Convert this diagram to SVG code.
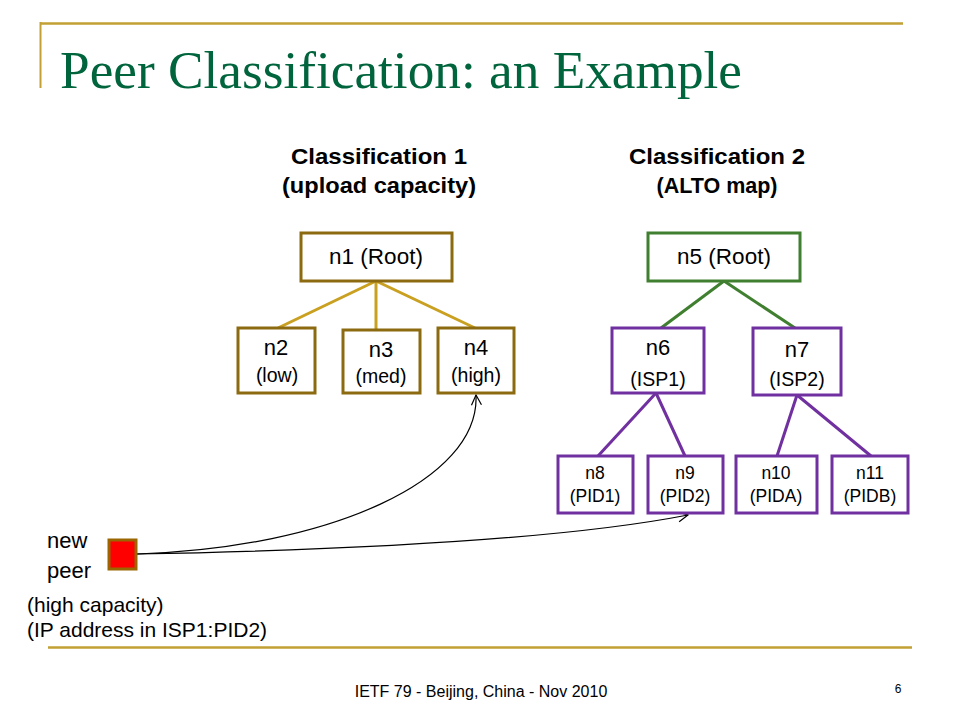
<svg xmlns="http://www.w3.org/2000/svg" width="960" height="720" viewBox="0 0 960 720">
<defs>
<style>
.t{font-family:"Liberation Sans",Arial,sans-serif;fill:#000;text-anchor:middle}
.l{font-family:"Liberation Sans",Arial,sans-serif;fill:#000}
.gb{fill:#fff;stroke:#8B6A10;stroke-width:3}
.grb{fill:#fff;stroke:#3F7F2F;stroke-width:3}
.pb{fill:#fff;stroke:#7030A0;stroke-width:3}
.gl{stroke:#C9A020;stroke-width:3;fill:none}
.grl{stroke:#3F7F2F;stroke-width:3;fill:none}
.pl{stroke:#7030A0;stroke-width:3;fill:none}
.cv{stroke:#000;stroke-width:1.2;fill:none;marker-end:url(#arr)}
</style>
<marker id="arr" viewBox="0 0 12 12" refX="11" refY="6" markerWidth="12" markerHeight="12" markerUnits="userSpaceOnUse" orient="auto">
<path d="M1,1 L11,6 L1,11" fill="none" stroke="#000" stroke-width="1.2"/>
</marker>
</defs>
<rect width="960" height="720" fill="#fff"/>
<g id="frame">
<line x1="40" y1="23.5" x2="903" y2="23.5" stroke="#C2A035" stroke-width="2.5"/>
<line x1="40.5" y1="22" x2="40.5" y2="88" stroke="#C2A035" stroke-width="2"/>
<line x1="48" y1="647.5" x2="912" y2="647.5" stroke="#C2A035" stroke-width="2.5"/>
<text x="60" y="88" font-family="'Liberation Serif','Times New Roman',serif" font-size="52" fill="#00643C" textLength="682" lengthAdjust="spacingAndGlyphs">Peer Classification: an Example</text>
<text class="t" x="481" y="697" font-size="16">IETF 79 - Beijing, China - Nov 2010</text>
<text class="t" x="898" y="693" font-size="12" fill="#333">6</text>
</g>
<g id="headings">
<text class="t" x="379" y="164" font-size="21.5" font-weight="bold" textLength="176" lengthAdjust="spacingAndGlyphs">Classification 1</text>
<text class="t" x="379" y="193" font-size="21.5" font-weight="bold" textLength="194" lengthAdjust="spacingAndGlyphs">(upload capacity)</text>
<text class="t" x="717" y="164" font-size="21.5" font-weight="bold" textLength="176" lengthAdjust="spacingAndGlyphs">Classification 2</text>
<text class="t" x="717" y="193" font-size="21.5" font-weight="bold">(ALTO map)</text>
</g>
<g id="connectors">
<line class="gl" x1="376" y1="281" x2="278" y2="328"/>
<line class="gl" x1="376" y1="281" x2="376" y2="330"/>
<line class="gl" x1="376" y1="281" x2="475" y2="328"/>
<line class="grl" x1="724" y1="281" x2="661" y2="328"/>
<line class="grl" x1="724" y1="281" x2="795" y2="328"/>
<line class="pl" x1="656" y1="393" x2="598" y2="456"/>
<line class="pl" x1="656" y1="393" x2="685" y2="456"/>
<line class="pl" x1="797" y1="395" x2="777" y2="456"/>
<line class="pl" x1="797" y1="395" x2="871" y2="456"/>
<path class="cv" d="M137,554 C330,548 480,480 476,395"/>
<path class="cv" d="M137,554 C350,550 560,540 688,515"/>
</g>
<g id="n1"><rect class="gb" x="301" y="233" width="151" height="48"/><text class="t" x="376" y="264" font-size="22.5">n1 (Root)</text></g>
<g id="n2"><rect class="gb" x="238" y="328" width="77" height="65"/><text class="t" x="276" y="355" font-size="22">n2</text><text class="t" x="277" y="382" font-size="19.5">(low)</text></g>
<g id="n3"><rect class="gb" x="343" y="330" width="77" height="63"/><text class="t" x="381" y="357" font-size="22">n3</text><text class="t" x="381" y="383" font-size="19.5">(med)</text></g>
<g id="n4"><rect class="gb" x="438" y="328" width="76" height="65"/><text class="t" x="476" y="355" font-size="22">n4</text><text class="t" x="476" y="382" font-size="19.5">(high)</text></g>
<g id="n5"><rect class="grb" x="648" y="233" width="152" height="48"/><text class="t" x="724" y="264" font-size="22.5">n5 (Root)</text></g>
<g id="n6"><rect class="pb" x="612" y="328" width="92" height="65"/><text class="t" x="658" y="355" font-size="22">n6</text><text class="t" x="658" y="386" font-size="19.5">(ISP1)</text></g>
<g id="n7"><rect class="pb" x="753" y="328" width="88" height="67"/><text class="t" x="797" y="357" font-size="22">n7</text><text class="t" x="797" y="386" font-size="19.5">(ISP2)</text></g>
<g id="n8"><rect class="pb" x="558" y="456" width="75" height="57"/><text class="t" x="595" y="479" font-size="17.5">n8</text><text class="t" x="595" y="502" font-size="17.5">(PID1)</text></g>
<g id="n9"><rect class="pb" x="648" y="456" width="75" height="57"/><text class="t" x="685" y="479" font-size="17.5">n9</text><text class="t" x="685" y="502" font-size="17.5">(PID2)</text></g>
<g id="n10"><rect class="pb" x="736" y="456" width="81" height="57"/><text class="t" x="776" y="479" font-size="17.5">n10</text><text class="t" x="776" y="502" font-size="17.5">(PIDA)</text></g>
<g id="n11"><rect class="pb" x="832" y="456" width="76" height="57"/><text class="t" x="870" y="479" font-size="17.5">n11</text><text class="t" x="870" y="502" font-size="17.5">(PIDB)</text></g>
<g id="newpeer">
<rect x="109" y="540" width="27" height="29" fill="#FF0000" stroke="#996600" stroke-width="3"/>
<text class="l" x="47" y="548" font-size="22">new</text>
<text class="l" x="47" y="578" font-size="22">peer</text>
<text class="l" x="27" y="612" font-size="21">(high capacity)</text>
<text class="l" x="27" y="637" font-size="21">(IP address in ISP1:PID2)</text>
</g>
</svg>
